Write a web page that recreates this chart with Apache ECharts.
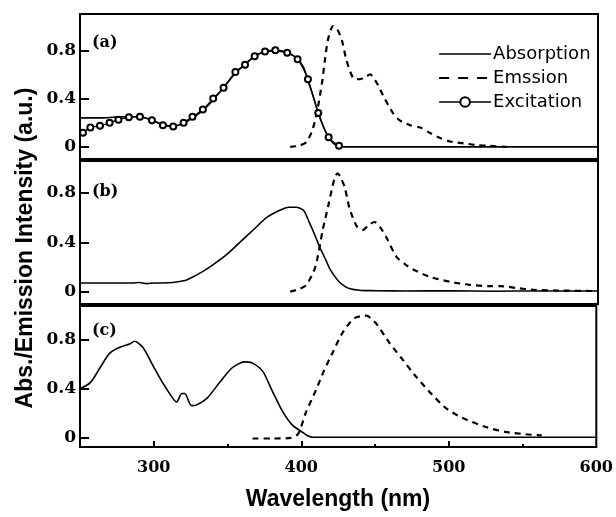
<!DOCTYPE html>
<html>
<head>
<meta charset="utf-8">
<script src="https://cdn.jsdelivr.net/npm/echarts@6/dist/echarts.min.js"></script>
<style>html,body{margin:0;padding:0;background:#fff}#c{width:616px;height:517px}</style>
</head>
<body>
<div id="c"></div>
<script>
// ---- Data (wavelength nm, intensity a.u.) ----
var seriesNames = ['Absorption', 'Emssion', 'Excitation'];
var panelLabels = ['(a)', '(b)', '(c)'];
var xTickLabels = [300, 400, 500, 600];
var yTickLabels = [0, 0.4, 0.8];

var absA = [[250,0.24],[258,0.24],[265,0.24],[272,0.245],[280,0.25],[290,0.25],[298,0.225],[306,0.185],[313,0.17],[320,0.195],[326,0.24],[333,0.3],[340,0.39],[347,0.49],[355,0.61],[362,0.69],[368,0.75],[375,0.785],[382,0.795],[390,0.78],[396,0.74],[401,0.66],[404,0.55],[408,0.4],[411,0.28],[415,0.15],[419,0.06],[423,0.015],[428,0],[600,0]];
var excA = [[252,0.117],[257,0.16],[263.5,0.175],[270,0.2],[276,0.225],[283,0.245],[290.5,0.25],[298.6,0.22],[306,0.18],[313,0.17],[320,0.2],[326,0.25],[333,0.31],[340,0.4],[347,0.49],[355,0.62],[361.5,0.68],[368,0.75],[375,0.79],[382,0.8],[390,0.78],[397,0.725],[404,0.56],[411,0.28],[418,0.08],[425,0.01]];
var emA = [[392,0],[398,0.01],[403,0.04],[407,0.14],[410,0.28],[413.5,0.53],[415.5,0.72],[417.6,0.89],[421,1.0],[424,0.97],[427,0.88],[430,0.72],[434.6,0.57],[439,0.56],[443,0.58],[446,0.6],[450.5,0.53],[455,0.42],[461.5,0.28],[466,0.22],[473,0.18],[480,0.16],[486.5,0.115],[493,0.075],[500,0.045],[509,0.03],[518,0.015],[525,0.01],[538,0]];

var absB = [[250,0.07],[270,0.07],[285,0.07],[290,0.075],[295,0.065],[300,0.07],[310,0.072],[316,0.08],[322,0.095],[331,0.15],[340,0.22],[349,0.3],[358,0.4],[367,0.5],[376,0.6],[385,0.66],[391,0.685],[396,0.685],[401,0.66],[405,0.56],[409,0.45],[412,0.36],[416,0.26],[419,0.18],[423,0.11],[426,0.07],[432,0.025],[440,0.01],[450,0.008],[470,0.005],[500,0.008],[530,0.004],[560,0.006],[600,0.005]];
var emB = [[392,0],[398,0.02],[403,0.055],[409,0.2],[414,0.5],[417.6,0.69],[420,0.82],[422,0.92],[424,0.96],[426,0.93],[429,0.84],[432,0.68],[437,0.53],[441,0.5],[445,0.54],[449,0.565],[453,0.52],[457,0.44],[464,0.28],[470,0.22],[475,0.18],[486.5,0.12],[500,0.08],[513.5,0.055],[527,0.045],[534,0.045],[545,0.03],[556,0.015],[570,0.01],[600,0.005]];

var absC = [[250,0.4],[257,0.45],[263.5,0.57],[270,0.69],[277,0.74],[284,0.77],[287,0.79],[292.6,0.74],[299,0.6],[306,0.45],[313,0.32],[315.5,0.29],[319,0.36],[321,0.36],[325.6,0.26],[329,0.265],[336,0.32],[344.6,0.45],[353,0.57],[361.5,0.62],[367,0.61],[374,0.54],[380,0.39],[387,0.22],[394,0.1],[401,0.04],[404,0.015],[408,0],[600,0]];
var emC = [[367,-0.01],[380,-0.01],[393,-0.005],[398,0.03],[403,0.2],[410,0.39],[415.5,0.55],[421,0.69],[428,0.86],[436,0.98],[444,1.0],[450.5,0.94],[459.5,0.78],[468,0.65],[477.7,0.5],[488,0.36],[498,0.24],[509,0.16],[525,0.085],[538,0.045],[552,0.025],[563,0.015]];

// ---- Layout ----
var grids = [
  {left:80, right:18, top:14, height:145},
  {left:80, right:18, top:161, height:143},
  {left:80, right:18, top:306, height:141}
];
var yRanges = [[-0.1,1.1],[-0.1,1.06],[-0.08,1.08]];
var tickFont = {fontFamily:'DejaVu Serif', fontWeight:'bold', fontSize:16, color:'#000'};

var chart = echarts.init(document.getElementById('c'), null, {renderer:'canvas'});

var xAxes = [], yAxes = [];
grids.forEach(function(g, i){
  g.show = true; g.borderColor = '#000'; g.borderWidth = 2; g.backgroundColor = 'transparent';
  var last = i === 2;
  xAxes.push({
    type:'value', gridIndex:i, position:'bottom', min:250, max:600, interval:50,
    axisLine:{show:false, onZero:false}, splitLine:{show:false},
    axisTick:{show:last, inside:true, length:6, lineStyle:{color:'#000', width:2}, customValues:[300,400,500]},
    axisLabel:Object.assign({show:last, margin:13, customValues:xTickLabels}, tickFont)
  });
  yAxes.push({
    type:'value', gridIndex:i, position:'left', min:yRanges[i][0], max:yRanges[i][1],
    axisLine:{show:false, onZero:false}, splitLine:{show:false},
    axisTick:{show:true, inside:true, length:9, lineStyle:{color:'#000', width:2}, customValues:yTickLabels},
    axisLabel:Object.assign({show:true, margin:4, customValues:yTickLabels,
      formatter:function(v){ return v === 0 ? '0' : v.toFixed(1); }}, tickFont, {fontSize:17})
  });
});
// minor ticks on bottom panel
xAxes.push({
  type:'value', gridIndex:2, position:'bottom', min:250, max:600, interval:50,
  axisLine:{show:false, onZero:false}, splitLine:{show:false}, axisLabel:{show:false},
  axisTick:{show:true, inside:true, length:3, lineStyle:{color:'#000', width:2}, customValues:[350,450,550]}
});

function lineSeries(name, data, gi, dashed){
  return {
    name:name, type:'line', xAxisIndex:gi, yAxisIndex:gi, data:data,
    symbol:'none', smooth:0.25, silent:true,
    lineStyle:{color:'#000', width: dashed ? 2.2 : 1.6, type: dashed ? [6,5] : 'solid'},
    itemStyle:{color:'#000'}
  };
}

var series = [
  lineSeries('Absorption', absA, 0, false),
  lineSeries('Emssion', emA, 0, true),
  {
    name:'Excitation', type:'line', xAxisIndex:0, yAxisIndex:0, data:excA,
    symbol:'emptyCircle', symbolSize:6, showSymbol:true, smooth:0.25, silent:true,
    lineStyle:{color:'#000', width:1.3},
    itemStyle:{color:'#000', borderColor:'#000', borderWidth:1}
  },
  lineSeries('Absorption', absB, 1, false),
  lineSeries('Emssion', emB, 1, true),
  lineSeries('Absorption', absC, 2, false),
  lineSeries('Emssion', emC, 2, true)
];

var labelY = [44, 193, 332];
var graphics = panelLabels.map(function(t, i){
  return {type:'text', left:92, top:labelY[i]-9, silent:true,
    style:{text:t, font:'bold 16px "DejaVu Serif"', fill:'#000'}};
});
graphics.push({type:'text', silent:true, x:26, y:248, rotation:Math.PI/2,
  style:{text:'Abs./Emission Intensity (a.u.)', font:'bold 23px "Liberation Sans"', fill:'#000', align:'center', verticalAlign:'middle'}});
graphics.push({type:'text', silent:true, x:338, y:500,
  style:{text:'Wavelength (nm)', font:'bold 23px "Liberation Sans"', fill:'#000', align:'center', verticalAlign:'middle'}});

var hidden = {color:'transparent', borderColor:'transparent', borderWidth:0};
chart.setOption({
  animation:false,
  backgroundColor:'#fff',
  grid:grids,
  xAxis:xAxes,
  yAxis:yAxes,
  legend:{
    orient:'vertical', left:433, top:40, itemWidth:52, itemHeight:12, itemGap:6,
    selectedMode:false,
    data:[
      {name:seriesNames[0], itemStyle:hidden, lineStyle:{color:'#000', width:1.6, type:'solid'}},
      {name:seriesNames[1], itemStyle:hidden, lineStyle:{color:'#000', width:2.2, type:[10,9]}},
      {name:seriesNames[2], lineStyle:{color:'#000', width:1.6, type:'solid'}}
    ],
    textStyle:{fontFamily:'DejaVu Sans', fontSize:18, color:'#000', padding:[0,0,0,-3]}
  },
  series:series,
  graphic:graphics
});
</script>
</body>
</html>
